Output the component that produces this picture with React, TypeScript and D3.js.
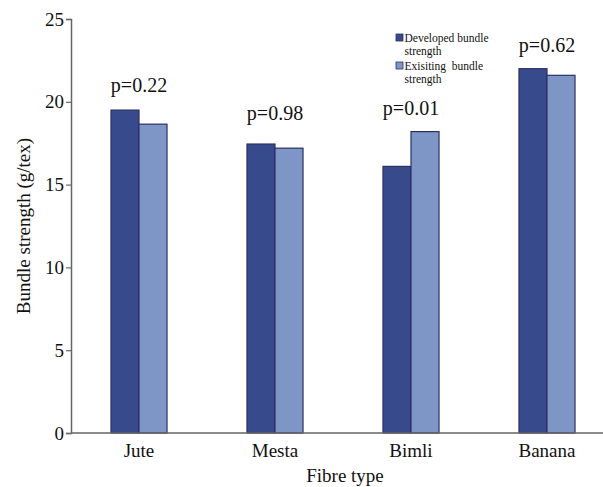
import React, { useEffect, useRef } from 'react';
import * as d3 from 'd3';

const fibres = ['Jute', 'Mesta', 'Bimli', 'Banana'];
const developed = [19.5, 17.45, 16.1, 22.0];
const existing = [18.65, 17.2, 18.2, 21.6];
const pValues = ['p=0.22', 'p=0.98', 'p=0.01', 'p=0.62'];
const pLabelY = [20.6, 18.9, 19.2, 23.0];
const yTicks = [0, 5, 10, 15, 20, 25];
const seriesNames = [['Developed bundle', 'strength'], ['Exisiting  bundle', 'strength']];
const colors = ['#374b8c', '#7d96c6'];

export default function App() {
  const ref = useRef<SVGSVGElement>(null);

  useEffect(() => {
    const svg = d3.select(ref.current);
    svg.selectAll('*').remove();
    const font = 'Liberation Serif, Times, DejaVu Serif, serif';
    const left = 71, right = 615, top = 19, bottom = 433;

    const x0 = d3.scaleBand().domain(fibres).range([left, right]).paddingInner(0.588).paddingOuter(0.294);
    const x1 = d3.scaleBand().domain(['dev', 'ext']).range([0, x0.bandwidth()]);
    const y = d3.scaleLinear().domain([0, 25]).range([bottom, top]);

    const g = svg.append('g');

    fibres.forEach((f, i) => {
      const vals = [developed[i], existing[i]];
      ['dev', 'ext'].forEach((k, j) => {
        g.append('rect')
          .attr('x', x0(f)! + x1(k)!)
          .attr('y', y(vals[j]))
          .attr('width', x1.bandwidth())
          .attr('height', y(0) - y(vals[j]))
          .attr('fill', colors[j])
          .attr('stroke', '#2c2f66')
          .attr('stroke-width', 1.2);
      });
      g.append('text')
        .attr('x', x0(f)! + x0.bandwidth() / 2)
        .attr('y', y(pLabelY[i]))
        .attr('text-anchor', 'middle')
        .attr('font-family', font)
        .attr('font-size', 20)
        .attr('fill', '#111')
        .text(pValues[i]);
    });

    const yAxis = d3.axisLeft(y).tickValues(yTicks).tickSize(5).tickPadding(2).tickFormat(d3.format('d'));
    const ya = svg.append('g').attr('transform', `translate(${left},0)`).call(yAxis);
    ya.attr('font-family', font).attr('font-size', 19);
    ya.select('.domain').attr('stroke', '#666').attr('stroke-width', 1.5);
    ya.selectAll('.tick line').attr('stroke', '#666').attr('stroke-width', 1.2);
    ya.selectAll('.tick text').attr('fill', '#111');

    svg.append('line')
      .attr('x1', left).attr('x2', 603)
      .attr('y1', bottom).attr('y2', bottom)
      .attr('stroke', '#666').attr('stroke-width', 1.5);

    fibres.forEach((f) => {
      svg.append('text')
        .attr('x', x0(f)! + x0.bandwidth() / 2)
        .attr('y', bottom + 24)
        .attr('text-anchor', 'middle')
        .attr('font-family', font)
        .attr('font-size', 19)
        .attr('fill', '#111')
        .text(f);
    });

    svg.append('text')
      .attr('x', 345).attr('y', 482)
      .attr('text-anchor', 'middle')
      .attr('font-family', font)
      .attr('font-size', 19)
      .attr('fill', '#111')
      .text('Fibre type');

    svg.append('text')
      .attr('transform', `translate(30,${(top + bottom) / 2}) rotate(-90)`)
      .attr('text-anchor', 'middle')
      .attr('font-family', font)
      .attr('font-size', 19)
      .attr('fill', '#111')
      .text('Bundle strength (g/tex)');

    // legend
    const legend = svg.append('g').attr('transform', 'translate(396,34)');
    seriesNames.forEach((lines, i) => {
      const row = legend.append('g').attr('transform', `translate(0,${i * 28})`);
      row.append('rect').attr('x', 0).attr('y', 0).attr('width', 7).attr('height', 7)
        .attr('fill', colors[i]).attr('stroke', '#2c2f66').attr('stroke-width', 0.8);
      lines.forEach((t, k) => {
        row.append('text')
          .attr('x', 8.5).attr('y', 8 + k * 13)
          .attr('font-family', font)
          .attr('font-size', 11.5)
          .style('white-space', 'pre')
          .attr('fill', '#111')
          .text(t);
      });
    });
  }, []);

  return (
    <svg ref={ref} width={603} height={487} style={{ position: 'absolute', left: 0, top: 0, background: '#fff' }} />
  );
}
